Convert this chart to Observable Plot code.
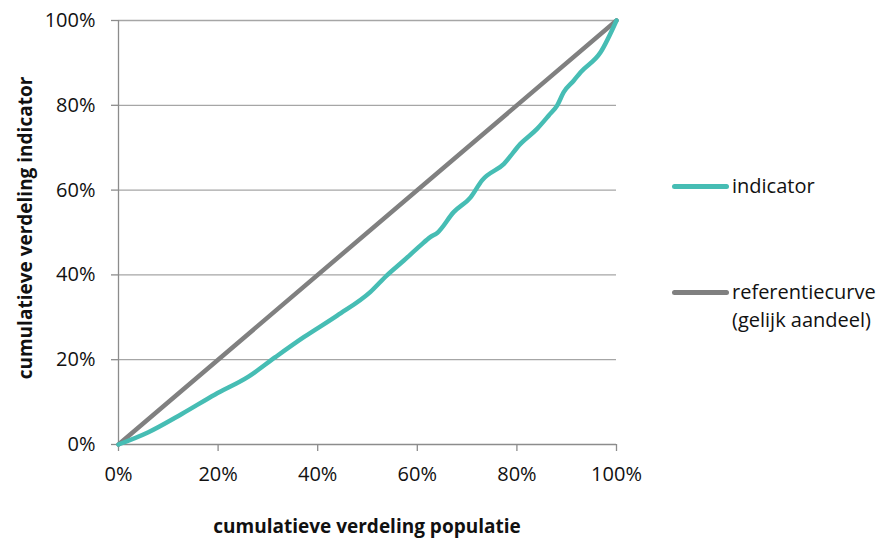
<!DOCTYPE html>
<html>
<head>
<meta charset="utf-8">
<script src="https://cdn.jsdelivr.net/npm/d3@7"></script>
<script src="https://cdn.jsdelivr.net/npm/@observablehq/plot@0.6"></script>
<style>
  html, body { margin: 0; padding: 0; background: #fff; }
  #wrap { position: relative; width: 883px; height: 540px; font-family: "Open Sans", sans-serif; color: #111; }
  #chart { position: absolute; left: 0; top: 0; }
  .ytitle { position: absolute; left: 25px; top: 228px; transform: translate(-50%, -50%) rotate(-90deg); white-space: nowrap; font-weight: bold; font-size: 19px; line-height: 1; }
  .xtitle { position: absolute; left: 367px; top: 526px; transform: translate(-50%, -50%); white-space: nowrap; font-weight: bold; font-size: 19px; line-height: 1; }
  .lg { position: absolute; left: 672px; font-size: 20px; line-height: 28px; }
  .lg .sw { position: absolute; left: 0; width: 57px; height: 5px; border-radius: 3px; }
  .lg .tx { position: absolute; left: 60px; white-space: nowrap; }
</style>
</head>
<body>
<div id="wrap">
  <div id="chart"></div>
  <div class="ytitle">cumulatieve verdeling indicator</div>
  <div class="xtitle">cumulatieve verdeling populatie</div>
  <div id="legend"></div>
</div>
<script>
// Data (percentages)
const indicatorX = [0, 6, 12.7, 19.4, 26.1, 31.5, 37.2, 43.9, 50.6, 53.9, 57.3, 60.6, 62.6, 64, 67.3, 70.7, 73, 77.4, 80.7, 84.1, 86.4, 88.1, 89.4, 91.4, 92.8, 96.8, 100];
const indicatorY = [0, 2.9, 7.2, 11.8, 16.0, 20.6, 25.3, 30.4, 36.0, 39.9, 43.4, 46.9, 48.9, 49.9, 54.8, 58.3, 62.3, 66.2, 70.9, 74.5, 77.6, 80.0, 83.1, 85.8, 87.8, 92.5, 100];
const referenceX = [0, 100];
const referenceY = [0, 100];
const xTicks = [0, 20, 40, 60, 80, 100];
const yTicks = [0, 20, 40, 60, 80, 100];
const seriesNames = ["indicator", "referentiecurve\n(gelijk aandeel)"];
const seriesColors = ["#46bdb4", "#808080"];

const indicator = indicatorX.map((x, i) => ({x, y: indicatorY[i]}));
const reference = referenceX.map((x, i) => ({x, y: referenceY[i]}));
const pct = d => d + "%";

const chart = Plot.plot({
  width: 883,
  height: 540,
  marginLeft: 118,
  marginRight: 267,
  marginTop: 20,
  marginBottom: 96,
  style: {fontFamily: "Open Sans, sans-serif", fontSize: "20px", color: "#111", background: "white", overflow: "visible"},
  x: {domain: [0, 100]},
  y: {domain: [0, 100]},
  marks: [
    Plot.ruleY(yTicks.filter(d => d > 0), {stroke: "#a6a6a6", strokeWidth: 1.3}),
    Plot.ruleX([0], {stroke: "#8c8c8c", strokeWidth: 1.3}),
    Plot.ruleY([0], {stroke: "#8c8c8c", strokeWidth: 1.3}),
    Plot.axisY(yTicks, {tickSize: 7, tickPadding: 16, tickFormat: pct, stroke: "#8c8c8c", strokeWidth: 1.3, fill: "#111", label: null}),
    Plot.axisX(xTicks, {tickSize: 7, tickPadding: 15, tickFormat: pct, stroke: "#8c8c8c", strokeWidth: 1.3, fill: "#111", label: null}),
    Plot.line(reference, {x: "x", y: "y", stroke: seriesColors[1], strokeWidth: 4.5}),
    Plot.line(indicator, {x: "x", y: "y", stroke: seriesColors[0], strokeWidth: 4.5, strokeLinejoin: "round", curve: "monotone-x"})
  ]
});
document.getElementById("chart").appendChild(chart);

// Legend
const legendTops = [186, 292];
const legend = document.getElementById("legend");
seriesNames.forEach((name, i) => {
  const item = document.createElement("div");
  item.className = "lg";
  item.style.top = (legendTops[i] - 14) + "px";
  const sw = document.createElement("div");
  sw.className = "sw";
  sw.style.background = seriesColors[i];
  sw.style.top = "11.5px";
  const tx = document.createElement("div");
  tx.className = "tx";
  tx.innerHTML = name.replace("\n", "<br>");
  item.appendChild(sw);
  item.appendChild(tx);
  legend.appendChild(item);
});
</script>
</body>
</html>
